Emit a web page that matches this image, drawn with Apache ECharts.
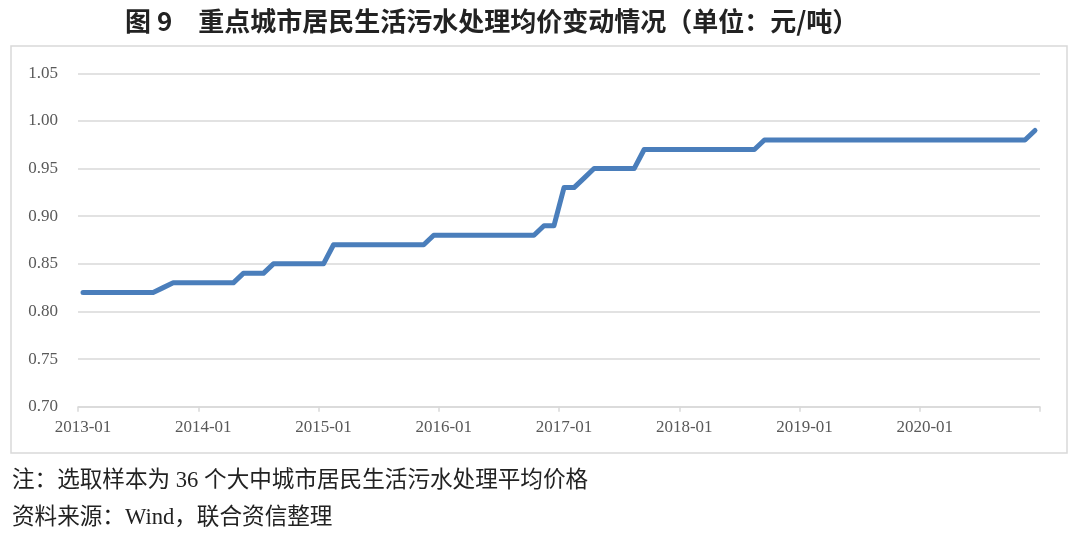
<!DOCTYPE html>
<html>
<head>
<meta charset="utf-8">
<script src="https://cdn.jsdelivr.net/npm/echarts@6/dist/echarts.min.js"></script>
<style>html,body{margin:0;padding:0;background:#fff}#c{width:1080px;height:536px}</style>
</head>
<body>
<div id="c"></div>
<script>
const titleText = '图 9　重点城市居民生活污水处理均价变动情况（单位：元/吨）';
const noteText = '注：选取样本为 36 个大中城市居民生活污水处理平均价格';
const sourceText = '资料来源：Wind，联合资信整理';

const startYear = 2013, endYear = 2020;
const months = [];
for (let y = startYear; y <= endYear; y++) {
  for (let m = 1; m <= 12; m++) months.push(y + '-' + (m < 10 ? '0' + m : m));
}

const avgPrice = [
  0.82,0.82,0.82,0.82,0.82,0.82,0.82,0.82,0.825,0.83,0.83,0.83,
  0.83,0.83,0.83,0.83,0.84,0.84,0.84,0.85,0.85,0.85,0.85,0.85,
  0.85,0.87,0.87,0.87,0.87,0.87,0.87,0.87,0.87,0.87,0.87,0.88,
  0.88,0.88,0.88,0.88,0.88,0.88,0.88,0.88,0.88,0.88,0.89,0.89,
  0.93,0.93,0.94,0.95,0.95,0.95,0.95,0.95,0.97,0.97,0.97,0.97,
  0.97,0.97,0.97,0.97,0.97,0.97,0.97,0.97,0.98,0.98,0.98,0.98,
  0.98,0.98,0.98,0.98,0.98,0.98,0.98,0.98,0.98,0.98,0.98,0.98,
  0.98,0.98,0.98,0.98,0.98,0.98,0.98,0.98,0.98,0.98,0.98,0.99
];

const serif = '"Liberation Serif", "Noto Sans CJK SC", serif';
const chart = echarts.init(document.getElementById('c'));
chart.setOption({
  animation: false,
  backgroundColor: '#fff',
  title: {
    text: titleText,
    left: 120, top: 3,
    textStyle: { fontFamily: '"Noto Sans CJK SC", sans-serif', fontSize: 26, fontWeight: 'bold', color: '#222' }
  },
  graphic: [
    { type: 'rect', shape: { x: 11, y: 46, width: 1056, height: 407 }, style: { fill: 'none', stroke: '#d9d9d9', lineWidth: 1.5 }, z: -1 },
    { type: 'text', left: 12, top: 470, style: { text: noteText, font: '22.6px "Liberation Serif", "Noto Sans CJK SC", serif', fill: '#222' } },
    { type: 'text', left: 12, top: 507, style: { text: sourceText, font: '22.6px "Liberation Serif", "Noto Sans CJK SC", serif', fill: '#222' } }
  ],
  grid: { left: 78, right: 40, top: 73.3, bottom: 129.3, containLabel: false },
  xAxis: {
    type: 'category',
    data: months,
    boundaryGap: true,
    axisLine: { lineStyle: { color: '#d9d9d9', width: 1.5 } },
    axisTick: { show: true, interval: 11, length: 5, lineStyle: { color: '#d9d9d9', width: 1.5 } },
    axisLabel: { interval: 11, margin: 12, fontFamily: serif, fontSize: 17, color: '#595959' }
  },
  yAxis: {
    type: 'value',
    min: 0.7, max: 1.05, interval: 0.05,
    axisLine: { show: false },
    axisTick: { show: false },
    splitLine: { lineStyle: { color: '#d9d9d9', width: 1.5 } },
    axisLabel: { margin: 20, fontFamily: serif, fontSize: 17, color: '#595959', formatter: v => v.toFixed(2) }
  },
  series: [{
    type: 'line',
    data: avgPrice,
    showSymbol: false,
    symbol: 'none',
    lineStyle: { color: '#4a7ebb', width: 5, cap: 'round', join: 'round' }
  }]
});
</script>
</body>
</html>
